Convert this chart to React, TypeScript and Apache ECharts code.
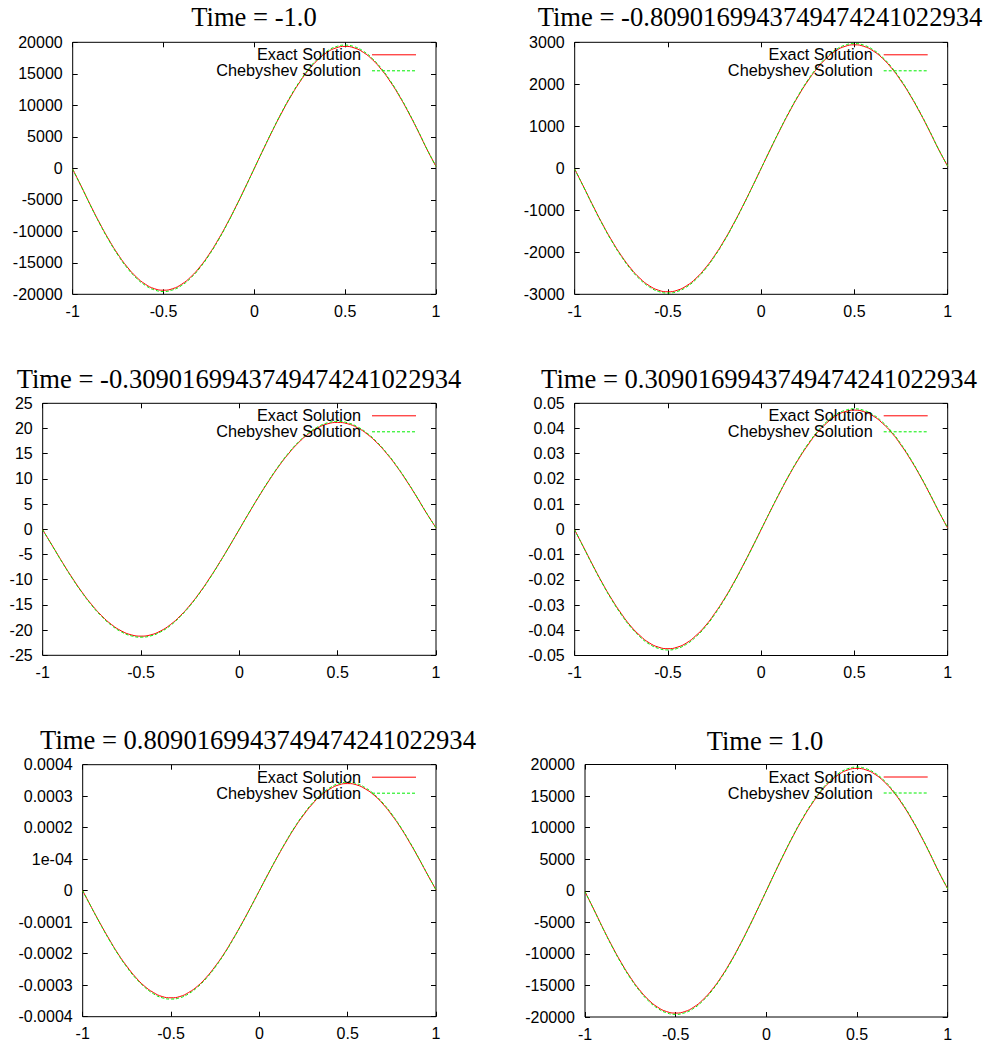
import React, { useEffect, useRef } from "react";
import * as echarts from "echarts";

const X = [-1, -0.95, -0.9, -0.85, -0.8, -0.75, -0.7, -0.65, -0.6, -0.55, -0.5, -0.45, -0.4, -0.35, -0.3, -0.25, -0.2, -0.15, -0.1, -0.05, 0,
  0.05, 0.1, 0.15, 0.2, 0.25, 0.3, 0.35, 0.4, 0.45, 0.5, 0.55, 0.6, 0.65, 0.7, 0.75, 0.8, 0.85, 0.9, 0.95, 1];
const X_TICKS = ["-1", "-0.5", "0", "0.5", "1"];
const LEGEND_NAMES = ["Exact Solution", "Chebyshev Solution"];

const TITLES = [
  "Time = -1.0",
  "Time = -0.8090169943749474241022934",
  "Time = -0.3090169943749474241022934",
  "Time = 0.3090169943749474241022934",
  "Time = 0.8090169943749474241022934",
  "Time = 1.0",
];

const P1_EXACT = [-150, -3026, -5980, -8785, -11375, -13683, -15655, -17241, -18400, -19112, -19350, -19112, -18400, -17241, -15655, -13683, -11375, -8785, -5980, -3026, 0,
  3026, 5980, 8785, 11375, 13683, 15655, 17241, 18400, 19112, 19350, 19112, 18400, 17241, 15655, 13683, 11375, 8785, 5980, 3026, 300];
const P1_CHEB = [-150, -3058, -6041, -8876, -11495, -13824, -15816, -17419, -18592, -19310, -19550, -19310, -18592, -17419, -15816, -13824, -11495, -8876, -6041, -3058, 0,
  3058, 6041, 8876, 11495, 13824, 15816, 17419, 18592, 19310, 19550, 19310, 18592, 17419, 15816, 13824, 11495, 8876, 6041, 3058, 300];
const P1_TICKS = ["-20000", "-15000", "-10000", "-5000", "0", "5000", "10000", "15000", "20000"];

const P2_EXACT = [-20, -460, -908, -1335, -1729, -2079, -2378, -2620, -2796, -2904, -2940, -2904, -2796, -2620, -2378, -2079, -1729, -1335, -908, -460, 0,
  460, 908, 1335, 1729, 2079, 2378, 2620, 2796, 2904, 2940, 2904, 2796, 2620, 2378, 2079, 1729, 1335, 908, 460, 50];
const P2_CHEB = [-20, -465, -918, -1348, -1746, -2100, -2403, -2646, -2824, -2933, -2970, -2933, -2824, -2646, -2403, -2100, -1746, -1348, -918, -465, 0,
  465, 918, 1348, 1746, 2100, 2403, 2646, 2824, 2933, 2970, 2933, 2824, 2646, 2403, 2100, 1746, 1348, 918, 465, 50];
const P2_TICKS = ["-3000", "-2000", "-1000", "0", "1000", "2000", "3000"];

const P3_EXACT = [-0.1, -3.32, -6.55, -9.62, -12.47, -14.99, -17.15, -18.89, -20.16, -20.94, -21.2, -20.94, -20.16, -18.89, -17.15, -14.99, -12.47, -9.62, -6.55, -3.32, 0,
  3.32, 6.55, 9.62, 12.47, 14.99, 17.15, 18.89, 20.16, 20.94, 21.2, 20.94, 20.16, 18.89, 17.15, 14.99, 12.47, 9.62, 6.55, 3.32, 0.3];
const P3_CHEB = [-0.1, -3.35, -6.61, -9.72, -12.58, -15.13, -17.31, -19.07, -20.35, -21.14, -21.4, -21.14, -20.35, -19.07, -17.31, -15.13, -12.58, -9.72, -6.61, -3.35, 0,
  3.35, 6.61, 9.72, 12.58, 15.13, 17.31, 19.07, 20.35, 21.14, 21.4, 21.14, 20.35, 19.07, 17.31, 15.13, 12.58, 9.72, 6.61, 3.35, 0.3];
const P3_TICKS = ["-25", "-20", "-15", "-10", "-5", "0", "5", "10", "15", "20", "25"];

const P4_EXACT = [-0.0002, -0.0074, -0.0146, -0.0215, -0.0278, -0.0334, -0.0383, -0.0421, -0.045, -0.0467, -0.0473, -0.0467, -0.045, -0.0421, -0.0383, -0.0334, -0.0278, -0.0215, -0.0146, -0.0074, 0,
  0.0074, 0.0146, 0.0215, 0.0278, 0.0334, 0.0383, 0.0421, 0.045, 0.0467, 0.0473, 0.0467, 0.045, 0.0421, 0.0383, 0.0334, 0.0278, 0.0215, 0.0146, 0.0074, 0.0005];
const P4_CHEB = [-0.0002, -0.0075, -0.0148, -0.0217, -0.0281, -0.0338, -0.0387, -0.0426, -0.0455, -0.0472, -0.0478, -0.0472, -0.0455, -0.0426, -0.0387, -0.0338, -0.0281, -0.0217, -0.0148, -0.0075, 0,
  0.0075, 0.0148, 0.0217, 0.0281, 0.0338, 0.0387, 0.0426, 0.0455, 0.0472, 0.0478, 0.0472, 0.0455, 0.0426, 0.0387, 0.0338, 0.0281, 0.0217, 0.0148, 0.0075, 0.0005];
const P4_TICKS = ["-0.05", "-0.04", "-0.03", "-0.02", "-0.01", "0", "0.01", "0.02", "0.03", "0.04", "0.05"];

const P5_EXACT = [0, -0.0000532, -0.000105, -0.000154, -0.0002, -0.00024, -0.000275, -0.000303, -0.000323, -0.000336, -0.00034, -0.000336, -0.000323, -0.000303, -0.000275, -0.00024, -0.0002, -0.000154, -0.000105, -0.0000532, 0,
  0.0000532, 0.000105, 0.000154, 0.0002, 0.00024, 0.000275, 0.000303, 0.000323, 0.000336, 0.00034, 0.000336, 0.000323, 0.000303, 0.000275, 0.00024, 0.0002, 0.000154, 0.000105, 0.0000532, 0.000003];
const P5_CHEB = [0, -0.0000538, -0.000106, -0.000156, -0.000202, -0.000243, -0.000278, -0.000306, -0.000327, -0.00034, -0.000344, -0.00034, -0.000327, -0.000306, -0.000278, -0.000243, -0.000202, -0.000156, -0.000106, -0.0000538, 0,
  0.0000538, 0.000106, 0.000156, 0.000202, 0.000243, 0.000278, 0.000306, 0.000327, 0.00034, 0.000344, 0.00034, 0.000327, 0.000306, 0.000278, 0.000243, 0.000202, 0.000156, 0.000106, 0.0000538, 0.000003];
const P5_TICKS = ["-0.0004", "-0.0003", "-0.0002", "-0.0001", "0", "1e-04", "0.0002", "0.0003", "0.0004"];

const P6_EXACT = [-150, -3031, -5988, -8799, -11395, -13704, -15678, -17268, -18430, -19142, -19380, -19142, -18430, -17268, -15678, -13704, -11395, -8799, -5988, -3031, 0,
  3031, 5988, 8799, 11395, 13704, 15678, 17268, 18430, 19142, 19380, 19142, 18430, 17268, 15678, 13704, 11395, 8799, 5988, 3031, 300];
const P6_CHEB = [-150, -3062, -6050, -8889, -11513, -13845, -15840, -17446, -18620, -19339, -19580, -19339, -18620, -17446, -15840, -13845, -11513, -8889, -6050, -3062, 0,
  3062, 6050, 8889, 11513, 13845, 15840, 17446, 18620, 19339, 19580, 19339, 18620, 17446, 15840, 13845, 11513, 8889, 6050, 3062, 300];
const P6_TICKS = ["-20000", "-15000", "-10000", "-5000", "0", "5000", "10000", "15000", "20000"];

const Y_MIN = [-20000, -3000, -25, -0.05, -0.0004, -20000];
const Y_INTERVAL = [5000, 1000, 5, 0.01, 0.0001, 5000];

const EXACT = [P1_EXACT, P2_EXACT, P3_EXACT, P4_EXACT, P5_EXACT, P6_EXACT];
const CHEB = [P1_CHEB, P2_CHEB, P3_CHEB, P4_CHEB, P5_CHEB, P6_CHEB];
const Y_TICKS = [P1_TICKS, P2_TICKS, P3_TICKS, P4_TICKS, P5_TICKS, P6_TICKS];

// layout: plot boxes (left, top, right, bottom) and title centres
const BOXES = [
  [72.7, 42.3, 436, 294.3],
  [574.7, 42.3, 947.7, 294.3],
  [42.7, 403.3, 436, 655.3],
  [574.7, 403.3, 947.7, 655.5],
  [82.7, 764.7, 436, 1016.7],
  [585, 764.5, 947.7, 1017],
];
const TITLE_POS = [
  [254, 3],
  [760, 3],
  [239, 365],
  [759, 365],
  [258, 726],
  [765, 727],
];

const W = 992;
const H = 1045;
const RED = "#ff0000";
const GREEN = "#00ee00";

export default function App() {
  const ref = useRef<HTMLDivElement>(null);
  useEffect(() => {
    if (!ref.current) return;
    const chart = echarts.init(ref.current, undefined, { renderer: "svg" });
    const grids: any[] = [];
    const xAxes: any[] = [];
    const yAxes: any[] = [];
    const series: any[] = [];
    const titles: any[] = [];
    const graphics: any[] = [];
    const sansFont = "'Liberation Sans', Arial, Helvetica, sans-serif";
    const tick = { show: true, inside: true, length: 5, lineStyle: { color: "#000", width: 1 } };
    const noLine = { show: false, onZero: false };

    for (let i = 0; i < 6; i++) {
      const [l, t, r, b] = BOXES[i];
      grids.push({
        left: l,
        top: t,
        width: r - l,
        height: b - t,
        show: true,
        borderColor: "#000",
        borderWidth: 1,
        backgroundColor: "transparent",
        containLabel: false,
      });
      const yMin = Y_MIN[i];
      const yInt = Y_INTERVAL[i];
      const ticks = Y_TICKS[i];
      const yMax = yMin + yInt * (ticks.length - 1);
      xAxes.push({
        type: "value",
        gridIndex: i,
        position: "bottom",
        min: -1,
        max: 1,
        interval: 0.5,
        axisLine: noLine,
        axisTick: tick,
        splitLine: { show: false },
        axisLabel: {
          show: true,
          margin: 9,
          color: "#000",
          fontSize: 16,
          fontFamily: sansFont,
          formatter: (v: number) => X_TICKS[Math.round((v + 1) / 0.5)] ?? "",
        },
      });
      xAxes.push({
        type: "value",
        gridIndex: i,
        position: "top",
        min: -1,
        max: 1,
        interval: 0.5,
        axisLine: noLine,
        axisTick: tick,
        splitLine: { show: false },
        axisLabel: { show: false },
      });
      yAxes.push({
        type: "value",
        gridIndex: i,
        position: "left",
        min: yMin,
        max: yMax,
        interval: yInt,
        axisLine: noLine,
        axisTick: tick,
        splitLine: { show: false },
        axisLabel: {
          show: true,
          margin: 10,
          color: "#000",
          fontSize: 16,
          fontFamily: sansFont,
          formatter: (v: number) => ticks[Math.round((v - yMin) / yInt)] ?? "",
        },
      });
      yAxes.push({
        type: "value",
        gridIndex: i,
        position: "right",
        min: yMin,
        max: yMax,
        interval: yInt,
        axisLine: noLine,
        axisTick: tick,
        splitLine: { show: false },
        axisLabel: { show: false },
      });
      series.push({
        type: "line",
        name: LEGEND_NAMES[0],
        xAxisIndex: i * 2,
        yAxisIndex: i * 2,
        data: X.map((x, k) => [x, EXACT[i][k]]),
        smooth: true,
        symbol: "none",
        showSymbol: false,
        lineStyle: { color: RED, width: 1 },
        itemStyle: { color: RED },
        z: 2,
      });
      series.push({
        type: "line",
        name: LEGEND_NAMES[1],
        xAxisIndex: i * 2,
        yAxisIndex: i * 2,
        data: X.map((x, k) => [x, CHEB[i][k]]),
        smooth: true,
        symbol: "none",
        showSymbol: false,
        lineStyle: { color: GREEN, width: 1, type: [3, 2] },
        itemStyle: { color: GREEN },
        z: 3,
      });
      titles.push({
        text: TITLES[i],
        left: TITLE_POS[i][0],
        top: TITLE_POS[i][1],
        textAlign: "center",
        padding: 0,
        textStyle: {
          fontFamily: "'Liberation Serif', 'Times New Roman', serif",
          fontSize: 26.6,
          fontWeight: "normal",
          color: "#000",
        },
      });
      // legend (gnuplot style: text right-aligned, sample line to the right)
      const rows = [
        { name: LEGEND_NAMES[0], color: RED, dash: null as any, dy: 12 },
        { name: LEGEND_NAMES[1], color: GREEN, dash: [3, 2], dy: 28 },
      ];
      rows.forEach((row) => {
        graphics.push({
          type: "text",
          x: r - 75,
          y: t + row.dy,
          z: 10,
          style: {
            text: row.name,
            fill: "#000",
            font: `16.3px ${sansFont}`,
            textAlign: "right",
            textVerticalAlign: "middle",
          },
        });
        graphics.push({
          type: "line",
          z: 10,
          shape: { x1: r - 64, y1: t + row.dy + 0.5, x2: r - 20, y2: t + row.dy + 0.5 },
          style: { stroke: row.color, lineWidth: 1, lineDash: row.dash },
        });
      });
    }

    chart.setOption({
      animation: false,
      backgroundColor: "#fff",
      title: titles,
      grid: grids,
      xAxis: xAxes,
      yAxis: yAxes,
      series,
      graphic: graphics,
    });
    return () => chart.dispose();
  }, []);
  return (
    <div
      ref={ref}
      style={{ position: "absolute", left: 0, top: 0, width: W, height: H }}
    />
  );
}
